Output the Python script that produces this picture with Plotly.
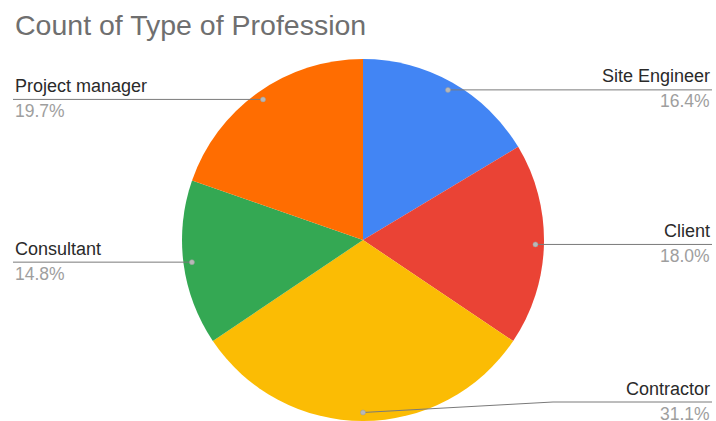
import math
import plotly.graph_objects as go

# ---- data ----
professions = ["Site Engineer", "Client", "Contractor", "Consultant", "Project manager"]
counts = [10, 11, 19, 9, 12]
colors = ["#4285F4", "#EA4335", "#FBBC04", "#34A853", "#FF6D01"]

W, H = 716, 421
CX, CY, R = 363, 240, 181  # pie centre / radius in pixels

def px(x):
    return x / W

def py(y):
    return 1 - y / H

fig = go.Figure(go.Pie(
    labels=professions, values=counts, sort=False, direction="clockwise",
    rotation=0, marker=dict(colors=colors, line=dict(width=0)),
    textinfo="none", hoverinfo="label+percent+value",
    domain=dict(x=[px(CX - R), px(CX + R)], y=[py(CY + R), py(CY - R)]),
    showlegend=False,
))

total = sum(counts)
shapes, annots = [], []
cum = 0
for name, v in zip(professions, counts):
    mid = (cum + v / 2) / total * 2 * math.pi
    cum += v
    dx, dy = math.sin(mid), -math.cos(mid)
    dotx, doty = CX + 0.953 * R * dx, CY + 0.953 * R * dy
    liney = min(doty, 402)
    right = dx >= 0
    edge = 712 if right else 13
    if abs(liney - doty) > 1:
        bendx = dotx + 190
        shapes.append(dict(type="line", xref="paper", yref="paper",
                           x0=px(dotx), y0=py(doty), x1=px(bendx), y1=py(liney),
                           line=dict(color="#7a7a7a", width=1)))
        startx = bendx
    else:
        startx = dotx
    shapes.append(dict(type="line", xref="paper", yref="paper",
                       x0=px(startx), y0=py(liney), x1=px(edge), y1=py(liney),
                       line=dict(color="#7a7a7a", width=1)))
    shapes.append(dict(type="circle", xref="paper", yref="paper",
                       x0=px(dotx - 2.5), x1=px(dotx + 2.5),
                       y0=py(doty + 2.5), y1=py(doty - 2.5),
                       fillcolor="#b8b8b8", line=dict(color="#9a9a9a", width=0.5)))
    pct = f"{v / total * 100:.1f}%"
    anchor = "right" if right else "left"
    annots.append(dict(text=name, xref="paper", yref="paper", x=px(edge), y=py(liney - 1.5),
                       xanchor=anchor, yanchor="bottom", showarrow=False,
                       font=dict(family="Liberation Sans, Arial", size=18, color="#2a2a2a")))
    annots.append(dict(text=pct, xref="paper", yref="paper", x=px(edge), y=py(liney - 0.5),
                       xanchor=anchor, yanchor="top", showarrow=False,
                       font=dict(family="Liberation Sans, Arial", size=17.5, color="#9e9e9e")))

annots.append(dict(text="Count of Type of Profession", xref="paper", yref="paper",
                   x=px(13), y=py(25), xanchor="left", yanchor="middle", showarrow=False,
                   font=dict(family="Liberation Sans, Arial", size=28.5, color="#6f6f6f")))

fig.update_layout(
    width=W, height=H, margin=dict(l=0, r=0, t=0, b=0),
    paper_bgcolor="white", plot_bgcolor="white",
    shapes=shapes, annotations=annots,
)

fig.write_html(
    "out.html",
    config={"displayModeBar": False},
    post_script="document.body.style.margin='0';document.body.style.overflow='hidden';",
)
